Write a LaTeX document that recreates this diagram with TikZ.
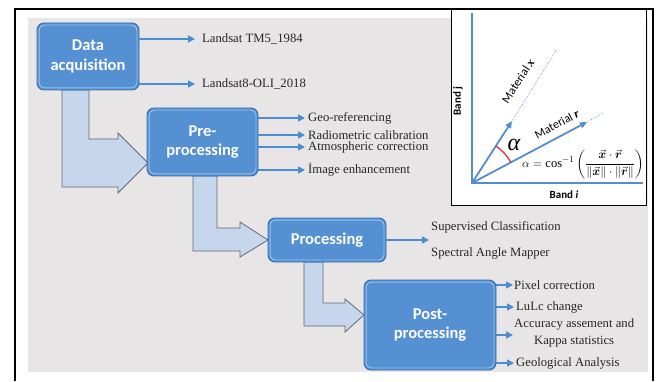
\documentclass[tikz,border=0pt]{standalone}
\usepackage{amsmath}
\usepackage{fontspec}
\setmainfont{Liberation Serif}
\newfontfamily\calib{Carlito}
\usetikzlibrary{arrows.meta}

\definecolor{boxblue}{RGB}{84,144,210}
\definecolor{boxedge}{RGB}{62,108,165}
\definecolor{hilite}{RGB}{150,196,240}
\definecolor{shaft}{RGB}{198,214,236}
\definecolor{shaftedge}{RGB}{100,105,115}
\definecolor{linkblue}{RGB}{75,140,210}
\definecolor{bggray}{RGB}{231,229,229}
\definecolor{axisblue}{RGB}{85,140,205}
\definecolor{arcred}{RGB}{205,60,60}

\begin{document}
\begin{tikzpicture}[x=1pt,y=1pt,
  stepbox/.style={rectangle, rounded corners=7pt, fill=boxblue, draw=boxedge,
    line width=0.9pt, text=white, align=center, inner sep=0pt,
    font=\calib\bfseries\fontsize{16.5}{19.5}\selectfont},
  flowarrow/.style={fill=shaft, draw=shaftedge, line width=0.8pt},
  link/.style={draw=linkblue, line width=1.6pt, -{Triangle[length=7pt,width=7pt]}},
  lbl/.style={anchor=west, inner sep=0pt, text=black!85,
    font=\fontsize{12.7}{17}\selectfont},
  axisline/.style={draw=axisblue, line width=2pt},
  vecline/.style={draw=axisblue, line width=1.8pt, -{Triangle[length=7pt,width=6pt]}},
  guide/.style={draw=axisblue, densely dotted, line width=0.6pt},
  inlbl/.style={font=\calib\fontsize{12}{12}\selectfont, inner sep=0pt},
  bandlbl/.style={font=\calib\bfseries\fontsize{11}{11}\selectfont, inner sep=0pt},
]
\useasboundingbox (0,0) rectangle (662,381);

% grey panel behind the flow chart
\fill[bggray] (28,9) rectangle (648,363);

% block arrows between the stages
\filldraw[flowarrow] (62,291) -- (89,291) -- (89,242) -- (118,242) -- (118,248)
  -- (148,218) -- (118,188) -- (118,194) -- (62,194) -- cycle;
\filldraw[flowarrow] (193,205) -- (217,205) -- (217,153) -- (240,153) -- (240,159)
  -- (268,141) -- (240,124) -- (240,130) -- (193,130) -- cycle;
\filldraw[flowarrow] (304,119) -- (323,119) -- (323,78) -- (345,78) -- (345,82)
  -- (364,66) -- (345,49) -- (345,55) -- (304,55) -- cycle;

% stage boxes
\node[stepbox, minimum width=102, minimum height=67] (data) at (88,324.5) {Data\\acquisition};
\node[stepbox, minimum width=111, minimum height=68] (pre) at (202.5,239) {Pre-\\processing};
\node[stepbox, minimum width=118, minimum height=44] (proc) at (327,141) {Processing};
\node[stepbox, minimum width=132, minimum height=90] (post) at (430,56) {Post-\\processing};
\foreach \b in {data,pre,proc,post}
  \draw[hilite, line width=0.9pt, rounded corners=5pt]
    ([shift={(2.5,-2.5)}]\b.north west) rectangle ([shift={(-2.5,2.5)}]\b.south east);

% outputs of each stage
\node[lbl] (l1) at (202,342) {Landsat TM5\_1984};
\node[lbl] (l2) at (202,297) {Landsat8-OLI\_2018};
\draw[link, shorten >=7pt] (data.east |- l1.west) -- (l1.west);
\draw[link, shorten >=7pt] (data.east |- l2.west) -- (l2.west);

\node[lbl] (p1) at (308,263) {Geo-referencing};
\node[lbl] (p2) at (308,246) {Radiometric calibration};
\node[lbl] (p3) at (308,234) {Atmospheric correction};
\node[lbl] (p4) at (308,211) {İmage enhancement};
\foreach \t in {p1,p2,p3,p4}
  \draw[link, shorten >=3pt] (pre.east |- \t.west) -- (\t.west);

\node[lbl] (s1) at (431,154) {Supervised Classification};
\node[lbl] (s2) at (431,128) {Spectral Angle Mapper};
\draw[link, shorten >=2pt] (proc.east) -- (proc.east -| s1.west);

\node[lbl] (q1) at (514,96) {Pixel correction};
\node[lbl] (q2) at (516,74) {LuLc change};
\node[lbl, align=center] (q3) at (514,48) {Accuracy assement and\\Kappa statistics};
\node[lbl] (q4) at (516,18) {Geological Analysis};
\draw[link, shorten >=1pt] (post.east |- q1.west) -- (q1.west);
\draw[link, shorten >=2pt] (post.east |- q2.west) -- (q2.west);
\draw[link, shorten >=1pt] ([yshift=-2]post.east |- q3.west) -- ([yshift=-2]q3.west);
\draw[link, shorten >=2pt] (post.east |- q4.west) -- (q4.west);

% spectral angle sketch
\filldraw[fill=white, draw=black, line width=0.8pt] (451,176) rectangle (646,373);
\coordinate (O) at (472,198);
\coordinate (ytop) at (472,368);
\coordinate (xend) at (643,198);
\coordinate (vx) at (512,260);
\coordinate (vxend) at (557,332);
\coordinate (vr) at (587,259);
\coordinate (vrend) at (603,268);
\draw[axisline] (ytop) -- (O) -- (xend);
\draw[guide] (vx) -- (vxend);
\draw[guide] (vr) -- (vrend);
\draw[vecline] (O) -- (vx);
\draw[vecline] (O) -- (vr);
\draw[arcred, line width=1.3pt] ([shift={(28:44)}]O) arc[start angle=28, end angle=57, radius=44];
\node[font=\itshape\fontsize{24}{24}\selectfont, inner sep=0pt] (alpha) at (514,236) {α};
\node[anchor=east, inner sep=0pt, font=\fontsize{12.5}{14}\selectfont] (formula) at (644,217)
  {$\alpha = \cos^{-1}\left(\dfrac{\vec{\boldsymbol{x}}\cdot\vec{\boldsymbol{r}}}{\|\vec{\boldsymbol{x}}\|\cdot\|\vec{\boldsymbol{r}}\|}\right)$};
\node[inlbl, rotate=57] (matx) at (518,300) {Material \textbf{\textit{\rmfamily x}}};
\node[inlbl, rotate=28] (matr) at (557,257) {Material \textbf{\textit{\rmfamily r}}};
\node[bandlbl, rotate=90] (bandj) at (458,280) {Band j};
\node[bandlbl] (bandi) at (564,186) {Band \textit{i}};

% outer frame
\draw[line width=2.2pt] (15,0) -- (15,372) -- (653,372) -- (653,0);
\end{tikzpicture}
\end{document}
